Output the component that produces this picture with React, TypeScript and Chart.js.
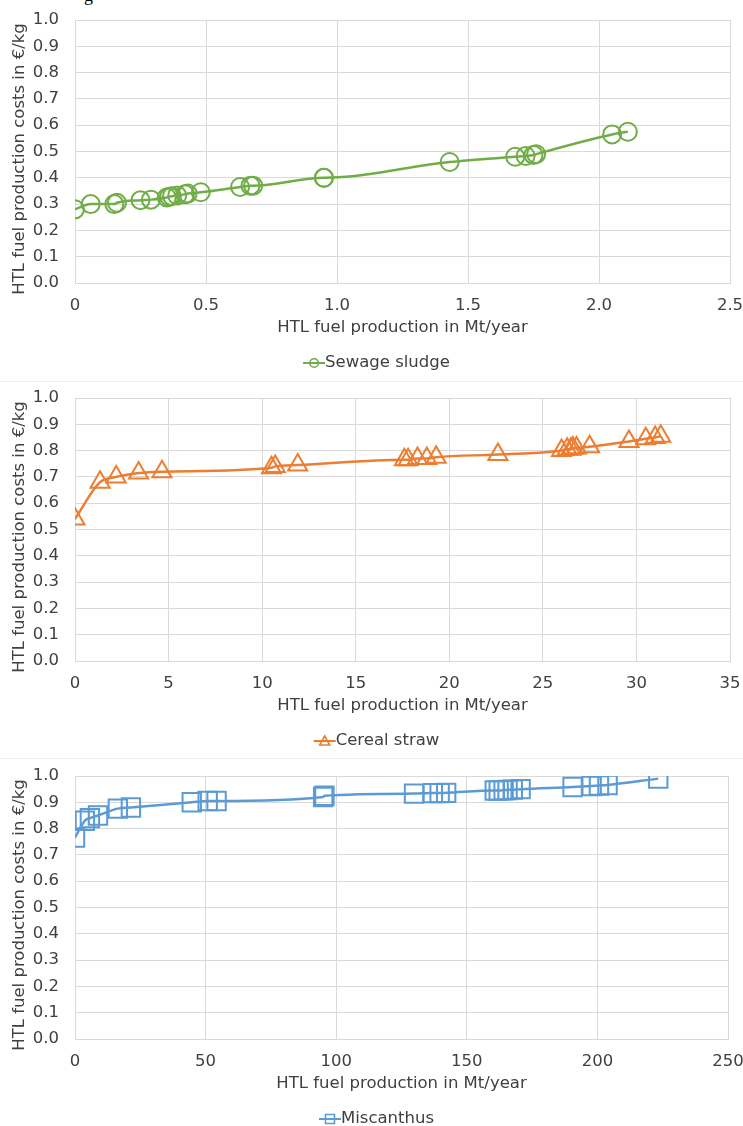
import React, { useEffect, useRef } from 'react';
import { Chart, registerables } from 'chart.js';

Chart.register(...registerables);

// ---- Data ----
const sewageX = [0, 0.06, 0.15, 0.16, 0.25, 0.29, 0.35, 0.36, 0.37, 0.39, 0.42, 0.43, 0.48, 0.63, 0.67, 0.68, 0.95, 0.95, 1.43, 1.68, 1.72, 1.75, 1.76, 2.05, 2.11];
const sewageY = [0.28, 0.30, 0.30, 0.305, 0.315, 0.317, 0.325, 0.328, 0.33, 0.333, 0.337, 0.34, 0.345, 0.365, 0.37, 0.37, 0.40, 0.40, 0.46, 0.48, 0.483, 0.487, 0.49, 0.565, 0.575];

const strawX = [0, 1.34, 2.2, 3.4, 4.65, 10.5, 10.7, 11.9, 17.6, 17.8, 18.3, 18.8, 19.3, 22.6, 26.0, 26.3, 26.5, 26.6, 26.8, 27.5, 29.6, 30.5, 31.0, 31.3];
const strawY = [0.54, 0.68, 0.70, 0.715, 0.72, 0.735, 0.74, 0.745, 0.765, 0.765, 0.77, 0.77, 0.775, 0.785, 0.80, 0.805, 0.805, 0.81, 0.81, 0.815, 0.835, 0.845, 0.85, 0.855];

const miscX = [0, 3.8, 5.7, 8.8, 16.4, 21.4, 44.7, 50.8, 54.2, 95.0, 95.5, 129.8, 137, 139.6, 142.1, 160.7, 162.2, 164.1, 165.6, 167.6, 170.6, 190.5, 197.8, 200.6, 203.9, 223.3];
const miscY = [0.766, 0.83, 0.84, 0.85, 0.876, 0.88, 0.90, 0.905, 0.905, 0.92, 0.925, 0.933, 0.935, 0.935, 0.936, 0.945, 0.945, 0.946, 0.947, 0.948, 0.95, 0.958, 0.962, 0.964, 0.966, 0.99];

const xTitle = 'HTL fuel production in Mt/year';
const yTitle = 'HTL fuel production costs in €/kg';

const FONT = '"DejaVu Sans", Verdana, sans-serif';
const TEXT = '#404040';
const GRID = '#d9d9d9';
const FS = 16.5;

function drawLegendIcon(ctx: CanvasRenderingContext2D, x: number, y: number, color: string, style: string) {
  ctx.save();
  ctx.strokeStyle = color;
  ctx.lineWidth = 2;
  ctx.beginPath();
  ctx.moveTo(x, y);
  ctx.lineTo(x + 22, y);
  ctx.stroke();
  ctx.lineWidth = 1.6;
  ctx.beginPath();
  const cx = x + 11;
  if (style === 'circle') ctx.arc(cx, y, 4.3, 0, Math.PI * 2);
  else if (style === 'triangle') {
    ctx.moveTo(cx, y - 5);
    ctx.lineTo(cx + 5, y + 4);
    ctx.lineTo(cx - 5, y + 4);
    ctx.closePath();
  } else ctx.rect(cx - 4.5, y - 4.5, 9, 9);
  ctx.stroke();
  ctx.restore();
}

type PanelProps = {
  xs: number[];
  ys: number[];
  label: string;
  color: string;
  pointStyle: string;
  radius: number;
  xMax: number;
  xStep: number;
};

function Panel({ xs, ys, label, color, pointStyle, radius, xMax, xStep }: PanelProps) {
  const ref = useRef<HTMLCanvasElement>(null);
  useEffect(() => {
    if (!ref.current) return;
    const font = { family: FONT, size: FS };
    const decor = {
      id: 'decor',
      afterDraw(chart: any) {
        const ctx = chart.ctx as CanvasRenderingContext2D;
        const area = chart.chartArea;
        ctx.save();
        ctx.fillStyle = TEXT;
        ctx.font = `${FS}px ${FONT}`;
        // y title
        ctx.save();
        ctx.translate(20, 159);
        ctx.rotate(-Math.PI / 2);
        ctx.textAlign = 'center';
        ctx.textBaseline = 'middle';
        ctx.fillText(yTitle, 0, 0);
        ctx.restore();
        // x title
        ctx.textAlign = 'center';
        ctx.textBaseline = 'middle';
        ctx.fillText(xTitle, (area.left + area.right) / 2, 328);
        // legend
        const tw = ctx.measureText(label).width;
        const total = 22 + tw;
        const lx = 376.5 - total / 2;
        drawLegendIcon(ctx, lx, 363, color, pointStyle);
        ctx.textAlign = 'left';
        ctx.fillText(label, lx + 22, 363);
        ctx.restore();
      },
    };
    const chart = new Chart(ref.current, {
      type: 'line',
      data: {
        datasets: [
          {
            label,
            data: xs.map((x, i) => ({ x, y: ys[i] })),
            borderColor: color,
            borderWidth: 2.5,
            pointStyle: pointStyle as any,
            pointRadius: radius,
            pointBorderWidth: 2,
            pointBorderColor: color,
            pointBackgroundColor: 'rgba(0,0,0,0)',
            cubicInterpolationMode: 'monotone',
            fill: false,
          },
        ],
      },
      options: {
        responsive: false,
        animation: false,
        layout: { padding: { top: 20, right: 13, left: 0, bottom: 0 } },
        scales: {
          x: {
            type: 'linear',
            min: 0,
            max: xMax,
            ticks: { stepSize: xStep, color: TEXT, font, padding: 13 },
            grid: { color: GRID, drawTicks: false },
            border: { color: GRID },
            afterFit: (s: any) => {
              s.height = 95;
              s.paddingLeft = 0;
              s.paddingRight = 0;
            },
          },
          y: {
            min: 0,
            max: 1,
            ticks: {
              stepSize: 0.1,
              color: TEXT,
              font,
              padding: 16,
              callback: (v: any) => Number(v).toFixed(1),
            },
            grid: { color: GRID, drawTicks: false },
            border: { color: GRID },
            afterFit: (s: any) => {
              s.width = 75;
              s.paddingTop = 0;
              s.paddingBottom = 0;
            },
          },
        },
        plugins: {
          legend: { display: false },
          tooltip: { enabled: false },
        },
      },
      plugins: [decor],
    });
    return () => chart.destroy();
  }, []);
  return <canvas ref={ref} width={743} height={378} style={{ display: 'block' }} />;
}

export default function App() {
  return (
    <div style={{ position: 'absolute', left: 0, top: 0, width: 743, height: 1126, overflow: 'hidden', background: '#fff' }}>
      <div style={{ position: 'absolute', left: 84, top: -15, fontFamily: '"Liberation Serif", serif', fontSize: 18, color: '#000' }}>g</div>
      <div style={{ position: 'absolute', left: 0, top: 0 }}>
        <Panel xs={sewageX} ys={sewageY} label="Sewage sludge" color="#70AD47" pointStyle="circle" radius={9} xMax={2.5} xStep={0.5} />
      </div>
      <div style={{ position: 'absolute', left: 0, top: 378 }}>
        <Panel xs={strawX} ys={strawY} label="Cereal straw" color="#ED7D31" pointStyle="triangle" radius={11} xMax={35} xStep={5} />
      </div>
      <div style={{ position: 'absolute', left: 0, top: 756 }}>
        <Panel xs={miscX} ys={miscY} label="Miscanthus" color="#5B9BD5" pointStyle="rect" radius={13} xMax={250} xStep={50} />
      </div>
      <div style={{ position: 'absolute', left: 0, top: 381, width: 743, borderTop: '1px solid #eeeeee' }} />
      <div style={{ position: 'absolute', left: 0, top: 758, width: 743, borderTop: '1px solid #eeeeee' }} />
    </div>
  );
}
